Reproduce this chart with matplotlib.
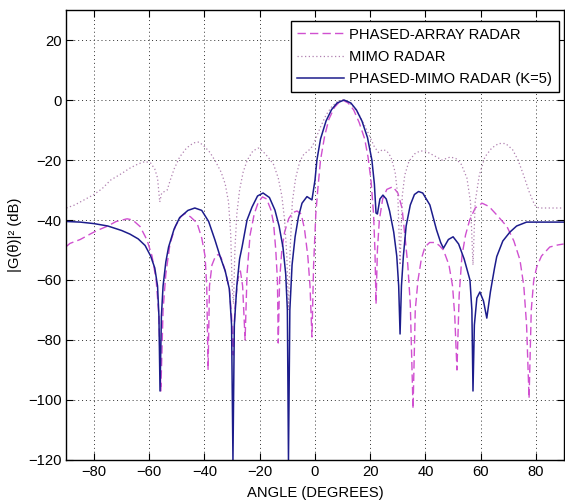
import matplotlib
matplotlib.use("Agg")
import matplotlib.pyplot as plt

plt.rcParams.update({
    "font.family": ["Liberation Sans", "DejaVu Sans"],
    "font.size": 10.6,
})

# ---- phased-array radar (dashed) ----
pa_ang = [-90, -88.7, -85, -81, -78.9, -75, -72, -68, -66, -63.3, -60.8, -59, -57.5,
          -56.5, -55.8, -55, -54, -52.5, -50.5, -48.5, -47, -45, -42.7, -41, -39.8,
          -39.2, -38.7, -38.2, -37.3, -36, -35, -34, -32.5, -31, -30.2, -29.6, -29,
          -28, -27, -26.2, -25.3, -24.6, -23.5, -22, -20.5, -19, -17.5, -16, -15,
          -14.2, -13.6, -13.3, -12.8, -12, -11, -9.5, -8, -6.5, -5, -3.8, -2.6, -1.8,
          -1.1, -0.5, 0.3, 1, 2, 3.5, 5, 7, 9, 10, 12, 14, 16, 18, 19.2, 20.3, 21.2,
          21.7, 22.1, 22.6, 23.3, 24.5, 26, 28.2, 30, 31.5, 32.6, 33.6, 34.5, 35.5,
          36.3, 37.3, 38.5, 39.8, 41.5, 43.5, 45, 46.5, 48.5, 49.8, 50.6, 51.4, 52.2,
          53.2, 54.5, 56, 58, 60.5, 63, 66, 69.5, 72, 74.2, 75.6, 76.6, 77.5, 78.3,
          79.2, 80.3, 82, 85, 88, 90]
pa_db = [-48.8, -47.8, -46.5, -44.5, -43.5, -42, -40.5, -39.6, -40, -42.2, -46.7, -52, -60,
         -72, -97, -70, -58, -48, -42, -38.8, -37.8, -39, -41, -46, -52,
         -62, -90, -62, -55, -52, -51.5, -52.5, -57, -63, -72, -85, -70,
         -60, -57, -62, -80, -58, -45, -38, -34, -32.3, -33, -36.5, -41,
         -50, -60, -81, -60, -50, -44, -39.5, -37.5, -37, -38, -43, -52, -62,
         -79, -55, -38, -30, -20, -12, -6.5, -2.5, -0.5, 0, -1, -3.3, -7.5, -13, -19, -27, -38,
         -50, -68, -50, -40, -33, -29.8, -28.9, -31, -36, -45.6, -55, -68, -103,
         -70, -60, -53, -49, -47.5, -47.5, -48.5, -50, -55, -62, -72, -90, -65,
         -52, -45, -40, -36, -34.4, -35.5, -38.5, -42.2, -47, -53.3, -62, -75, -99.5, -70,
         -60, -55.6, -52, -49, -48.3, -48]

# ---- MIMO radar (dotted) ----
mimo_ang = [-90, -87, -84, -80, -77, -74, -70, -67, -64, -61.5, -59.5, -58, -57, -56.2,
            -55.5, -54.5, -53.5, -52.5, -51, -49, -46.5, -44, -42, -40, -38, -36, -34,
            -32.5, -31.3, -30.5, -30, -29.5, -29, -28.3, -27.3, -26, -24.5, -22.5, -20.5,
            -19, -17, -15, -13.3, -12, -11, -10.2, -9.6, -9, -8.2, -7, -5.5, -4, -2.5, -1,
            0, 2, 4, 6, 8, 10, 12, 14, 16, 18, 20, 21.5, 23, 24.5, 26, 27.5, 29, 30, 30.8,
            31.6, 32.5, 34, 36, 38, 40, 43, 46, 49, 51, 53, 55, 56.3, 57.2, 58, 59.5, 61.5,
            64, 66.5, 69, 71.5, 73.5, 75.5, 77.5, 79.5, 81, 90]
mimo_db = [-36, -35, -33.5, -31.5, -29.5, -26.7, -24.5, -22.7, -21.3, -20.5, -21, -23, -26, -34,
           -31, -30.5, -30, -27, -23, -19, -16, -14.3, -14, -15.5, -17.5, -20.5, -24,
           -28, -34, -45, -62, -68, -50, -38, -30, -24, -20, -17, -16,
           -17, -19, -21.5, -26, -32, -40, -52, -70, -50, -34, -26, -20.5, -18, -17, -15.5,
           -13.5, -9, -5, -2.3, -0.6, 0, -0.6, -2.3, -5, -8.5, -12.5, -15.6, -17.5, -16.5, -17, -19, -24, -32, -55,
           -32, -25, -20.5, -18, -17, -17, -18.5, -20, -19, -19.5, -21.5, -26, -34, -55, -34, -25, -19,
           -16, -14.5, -14.5, -16.5, -20, -25, -30.5, -35, -36, -36]

# ---- phased-MIMO radar, K=5 (solid) ----
pm_ang = [-90, -85, -80, -75, -70, -67, -64, -61.5, -59.5, -58, -57, -56.5, -56.1, -55.6,
          -55, -54, -53, -51, -49, -46, -43.5, -41, -38.5, -36.2, -34.4, -32.5, -31,
          -30.2, -29.7, -29.2, -28.3, -27.3, -26.4, -24.6, -22.8, -20.8, -18.8, -16.5,
          -14.5, -13, -11.6, -10.6, -10, -9.6, -9.1, -8.3, -7.2, -6, -4.7, -2.9, -1.1,
          0, 0.7, 2, 4, 6, 8, 10.5, 13, 15, 17, 19, 20.6, 21.5, 22.1, 22.6, 23.5, 24.6,
          25.8, 27, 28.5, 29.6, 30.3, 30.8, 31.3, 32, 33, 34.5, 36, 37.5, 39, 41.6, 44,
          45.5, 46.5, 48.3, 50, 52, 54, 56.1, 56.8, 57.2, 57.7, 58.6, 59.7, 61, 62.2,
          63.5, 65, 65.8, 68, 70.6, 73, 76.6, 80, 90]
pm_db = [-40.5, -40.7, -41.2, -42, -43.5, -44.7, -46.3, -48.5, -52, -56, -62, -72, -97, -72,
         -62, -54, -49, -43, -39.2, -36.8, -36, -36.8, -40.5, -46.7, -52, -57, -63,
         -75, -120, -75, -62, -53, -49, -40, -35.7, -32, -31, -32.5,
         -36.7, -42, -49, -58, -70, -120, -70, -55, -45.6, -39, -34.4, -32.2, -33.3,
         -26.7, -20, -13, -7, -3.2, -1, 0, -1, -3.3, -7, -12.5, -20, -28, -37.7, -38, -33, -31.7,
         -33, -37, -44, -52, -62, -78, -62, -52, -42, -35, -31.5, -30.5, -31, -35, -43.3,
         -47.5, -49.4, -46.5, -45.6, -48, -53, -60, -70, -97, -75, -66, -64, -67, -72.7,
         -64, -56, -52.2, -47, -44, -42, -40.7, -40.7, -40.7]

fig = plt.figure(figsize=(5.65, 5.03), dpi=100)
ax = fig.add_axes([0.1175, 0.0855, 0.880, 0.8946])

ax.plot(pa_ang, pa_db, color="#d050d0", ls=(0, (6, 3)), lw=1.0,
        label="PHASED-ARRAY RADAR")
ax.plot(mimo_ang, mimo_db, color="#b080b0", ls=(0, (1, 2)), lw=0.9,
        label="MIMO RADAR")
ax.plot(pm_ang, pm_db, color="#1c1c8c", lw=1.1,
        label="PHASED-MIMO RADAR (K=5)")

ax.set_xlim(-90, 90)
ax.set_ylim(-120, 30)
ax.set_xticks(range(-80, 81, 20))
ax.set_yticks(range(-120, 21, 20))
ax.tick_params(direction="in", top=True, right=True, length=5, width=0.8)
ax.grid(True, color="#333333", ls=(0, (1, 3)), lw=0.7)
for s in ax.spines.values():
    s.set_linewidth(1.0)

ax.set_xlabel("ANGLE (DEGREES)", labelpad=5)
ax.set_ylabel("|G(θ)|² (dB)", labelpad=4)

leg = ax.legend(loc="upper right", bbox_to_anchor=(0.9907, 0.9756),
                borderaxespad=0, handlelength=3.2, handletextpad=0.35,
                borderpad=0.45, labelspacing=0.55, fancybox=False,
                framealpha=1, edgecolor="black")
leg.get_frame().set_linewidth(1.0)

fig.savefig("out.png", dpi=100)
